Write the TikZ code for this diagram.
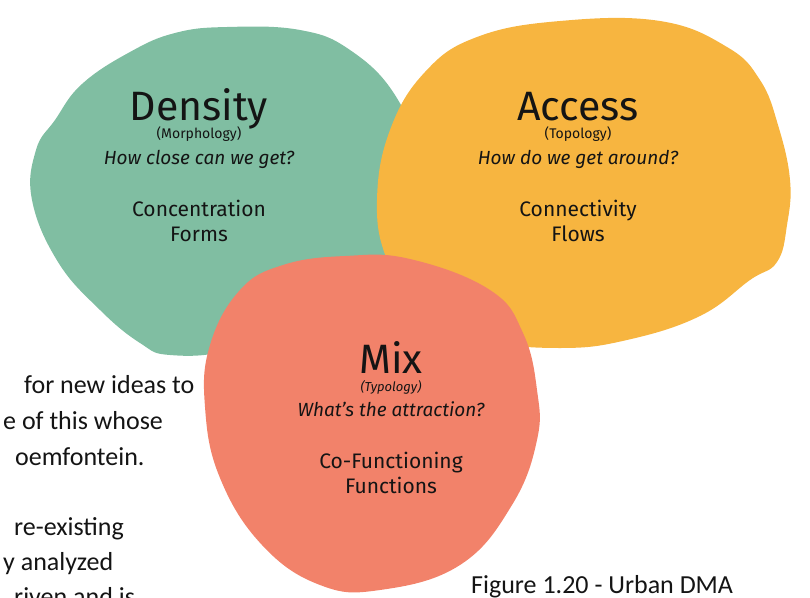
\documentclass[tikz,border=0pt]{standalone}
\usepackage{fontspec}
\setmainfont{Fira Sans}
\newfontfamily\carlito{Carlito}
\definecolor{dgreen}{RGB}{128,190,162}
\definecolor{dorange}{RGB}{247,181,64}
\definecolor{dsalmon}{RGB}{242,130,106}
\definecolor{ink}{RGB}{20,20,20}
\begin{document}
\begin{tikzpicture}[x=1pt,y=-1pt,
  blob/.style={smooth cycle, tension=0.7},
  ttl/.style={font=\fontsize{41}{41}\selectfont, anchor=base, inner sep=0pt, text=ink},
  sub/.style={font=\fontsize{14}{15}\selectfont, anchor=base, inner sep=0pt, text=ink},
  subit/.style={font=\fontsize{13}{14}\itshape\selectfont, anchor=base, inner sep=0pt, text=ink},
  qst/.style={font=\fontsize{19}{20}\itshape\selectfont, anchor=base, inner sep=0pt, text=ink},
  kw/.style={font=\fontsize{21}{22}\selectfont, anchor=base, inner sep=0pt, text=ink},
  body/.style={font=\carlito\fontsize{26}{30}\selectfont, anchor=base west, inner sep=0pt, text=ink}]
\useasboundingbox (0,0) rectangle (810,597);
\clip (0,0) rectangle (810,597);
% green blob
\fill[dgreen] plot[blob] coordinates {(227,27) (300,30) (350,50) (395,95) (420,160) (420,230) (380,280) (300,320) (230,350) (170,355) (140,343) (100,310) (58,262) (32,200) (36,150) (55,120) (82,84) (130,52) (175,33)};
% orange blob
\fill[dorange] plot[blob] coordinates {(560,21) (660,21) (727,47) (760,80) (778,125) (790,180) (787,225) (777,262) (750,280) (700,316) (627,340) (560,348) (480,340) (420,315) (387,260) (377,200) (390,130) (425,72) (477,37)};
% salmon blob
\fill[dsalmon] plot[blob] coordinates {(345,256) (410,259) (490,290) (523,333) (537,390) (537,440) (512,505) (460,565) (380,590) (320,585) (262,545) (220,478) (205,407) (210,345) (240,290) (283,265)};
% Density
\node[ttl]   (dT) at (199,120) {Density};
\node[sub]   (dS) at (199,138) {(Morphology)};
\node[qst]   (dQ) at (199,164) {How close can we get?};
\node[kw]    (dK1) at (199,216) {Concentration};
\node[kw]    (dK2) at (199,241) {Forms};
% Access
\node[ttl]   (aT) at (578,120) {Access};
\node[sub]   (aS) at (578,138) {(Topology)};
\node[qst]   (aQ) at (578,164) {How do we get around?};
\node[kw]    (aK1) at (578,216) {Connectivity};
\node[kw]    (aK2) at (578,241) {Flows};
% Mix
\node[ttl]   (mT) at (391,373) {Mix};
\node[subit] (mS) at (391,391) {(Typology)};
\node[qst]   (mQ) at (391,416) {What’s the attraction?};
\node[kw]    (mK1) at (391,468) {Co-Functioning};
\node[kw]    (mK2) at (391,493) {Functions};
% body text
\node[body] (b1) at (24,393) {for new ideas to};
\node[body] (b2) at (3,429) {e of this whose};
\node[body] (b3) at (15,465) {oemfontein.};
\node[body] (b4) at (14,535) {re-existing};
\node[body] (b5) at (3,570) {y analyzed};
\node[body] (b6) at (14,605) {riven and is};
\node[body] (cap) at (471,593) {Figure 1.20 - Urban DMA};
\end{tikzpicture}
\end{document}
